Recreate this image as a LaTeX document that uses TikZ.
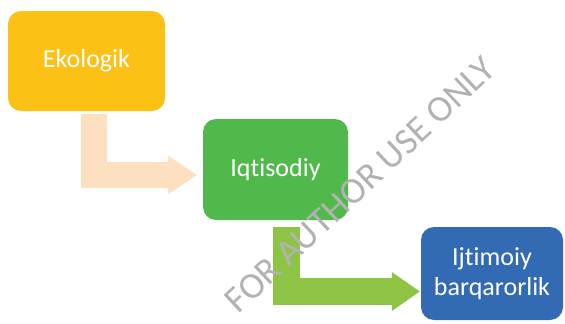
\documentclass[tikz,border=0pt]{standalone}
\usepackage{fontspec}
\setmainfont{Carlito}[Ligatures=NoCommon]
\usetikzlibrary{positioning, arrows.meta}

\definecolor{ekogold}{HTML}{FBC115}
\definecolor{iqgreen}{HTML}{51B84B}
\definecolor{ijblue}{HTML}{336AB4}
\definecolor{peach}{HTML}{FDE0C0}
\definecolor{leafgreen}{HTML}{8DC446}

\begin{document}
\begin{tikzpicture}[x=1pt, y=1pt, on grid, auto,
    box/.style={rounded corners=13pt, text=white, align=center,
                font=\fontsize{26}{29.5}\selectfont},
    bent/.style={line width=#1, line join=miter},
    watermark/.style={text=black!30, inner sep=0pt, font=\fontsize{37}{38}\selectfont}]
   \useasboundingbox (0,0) rectangle (565,-324);

   \node[box, fill=ekogold, minimum width=157pt, minimum height=100pt] (ekologik) at (86.5,-61) {Ekologik};
   \node[box, fill=iqgreen, minimum width=145pt, minimum height=101pt] (iqtisodiy) [below right=108.5pt and 189pt of ekologik] {Iqtisodiy};
   \node[box, fill=ijblue, minimum width=142pt, minimum height=93pt] (ijtimoiy) [below right=104pt and 216.5pt of iqtisodiy] {Ijtimoiy\\barqarorlik};

   \draw[bent=26pt, peach, -{Triangle[width=39pt, length=29pt, line width=0pt]}]
     ([xshift=7pt, yshift=-3pt]ekologik.south) |- ([xshift=-6pt, yshift=-5.5pt]iqtisodiy.west);
   \draw[bent=27pt, leafgreen, -{Triangle[width=39pt, length=28pt, line width=0pt]}]
     ([xshift=11pt, yshift=-7pt]iqtisodiy.south) |- ([xshift=-1pt, yshift=-18pt]ijtimoiy.west);

   \node[watermark, rotate=43.2] (wm) at (360,-185) {FOR AUTHOR USE ONLY};
\end{tikzpicture}
\end{document}
